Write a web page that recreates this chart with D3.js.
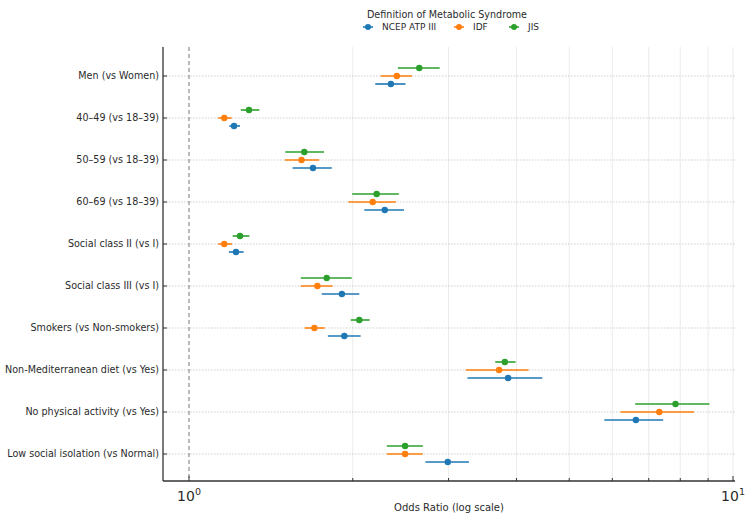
<!DOCTYPE html>
<html><head><meta charset="utf-8">
<script src="https://cdn.jsdelivr.net/npm/d3@7"></script>
<style>body{margin:0;background:#fff;} text{font-family:"DejaVu Sans",sans-serif;}</style>
</head><body><svg id="c" width="750" height="521"></svg>
<script>
const categories = ["Men (vs Women)","40–49 (vs 18–39)","50–59 (vs 18–39)","60–69 (vs 18–39)","Social class II (vs I)","Social class III (vs I)","Smokers (vs Non-smokers)","Non-Mediterranean diet (vs Yes)","No physical activity (vs Yes)","Low social isolation (vs Normal)"];
const seriesNames = ["NCEP ATP III","IDF","JIS"];
const ncepOR = [2.35,1.21,1.69,2.29,1.22,1.91,1.93,3.86,6.63,2.99];
const ncepLo = [2.20,1.186,1.55,2.10,1.184,1.754,1.80,3.25,5.80,2.72];
const ncepHi = [2.50,1.241,1.83,2.485,1.26,2.056,2.068,4.46,7.44,3.27];
const idfOR = [2.41,1.161,1.61,2.176,1.161,1.722,1.70,3.715,7.32,2.496];
const idfLo = [2.25,1.132,1.50,1.963,1.132,1.605,1.632,3.226,6.21,2.31];
const idfHi = [2.57,1.198,1.734,2.40,1.20,1.837,1.776,4.21,8.48,2.69];
const jisOR = [2.65,1.289,1.629,2.213,1.241,1.791,2.056,3.807,7.84,2.496];
const jisLo = [2.42,1.245,1.503,1.995,1.203,1.605,1.983,3.656,6.61,2.31];
const jisHi = [2.89,1.347,1.771,2.43,1.291,1.991,2.148,3.984,9.05,2.69];
const xTicks = [1,10];
const minorTicks = [2,3,4,5,6,7,8,9];
const colors = ["#1f77b4","#ff7f0e","#2ca02c"];

const series = [
  {name:seriesNames[0], or:ncepOR, lo:ncepLo, hi:ncepHi, off:8, color:colors[0]},
  {name:seriesNames[1], or:idfOR, lo:idfLo, hi:idfHi, off:0, color:colors[1]},
  {name:seriesNames[2], or:jisOR, lo:jisLo, hi:jisHi, off:-8, color:colors[2]}
];

const svg = d3.select("#c");
const x = d3.scaleLog().domain([1,10]).range([189,733]);
const y = d3.scalePoint().domain(categories).range([76,454]);
const pL = 163, pR = 735, pT = 47, pB = 481;

// vertical minor grid
svg.append("g").selectAll("line").data(minorTicks.concat([10])).join("line")
  .attr("x1",d=>x(d)).attr("x2",d=>x(d)).attr("y1",pT).attr("y2",pB)
  .attr("stroke","#e6e6e6").attr("stroke-width",0.8);
// horizontal dotted grid
svg.append("g").selectAll("line").data(categories).join("line")
  .attr("x1",pL).attr("x2",pR).attr("y1",d=>y(d)).attr("y2",d=>y(d))
  .attr("stroke","#cfcfcf").attr("stroke-width",1).attr("stroke-dasharray","1.5,1.5");
// reference line at 1
svg.append("line").attr("x1",x(1)).attr("x2",x(1)).attr("y1",pT).attr("y2",pB)
  .attr("stroke","#777").attr("stroke-width",1).attr("stroke-dasharray","4,3");

// spines
svg.append("line").attr("x1",pL).attr("x2",pL).attr("y1",pT).attr("y2",pB).attr("stroke","#333").attr("stroke-width",1.3);
svg.append("line").attr("x1",pL).attr("x2",pR).attr("y1",pB).attr("y2",pB).attr("stroke","#333").attr("stroke-width",1.3);

// y ticks and labels
const yg = svg.append("g");
yg.selectAll("line").data(categories).join("line")
  .attr("x1",pL).attr("x2",pL+4).attr("y1",d=>y(d)).attr("y2",d=>y(d)).attr("stroke","#333");
yg.selectAll("text").data(categories).join("text")
  .attr("x",pL-4).attr("y",d=>y(d)).attr("dy","0.35em").attr("text-anchor","end")
  .attr("font-size","9.6px").attr("fill","#2b2b2b").text(d=>d);

// x ticks
const xg = svg.append("g");
xg.selectAll("line.maj").data(xTicks).join("line").attr("class","maj")
  .attr("x1",d=>x(d)).attr("x2",d=>x(d)).attr("y1",pB).attr("y2",pB-5).attr("stroke","#333");
xg.selectAll("line.min").data(minorTicks).join("line").attr("class","min")
  .attr("x1",d=>x(d)).attr("x2",d=>x(d)).attr("y1",pB).attr("y2",pB-3).attr("stroke","#333");
const lbl = xg.selectAll("text").data(xTicks).join("text")
  .attr("x",d=>x(d)).attr("y",pB+20).attr("text-anchor","middle").attr("font-size","14px").attr("fill","#2b2b2b");
lbl.append("tspan").text("10");
lbl.append("tspan").attr("dy","-6").attr("font-size","9.5px").text(d=>Math.round(Math.log10(d)));

svg.append("text").attr("x",(pL+pR)/2).attr("y",511).attr("text-anchor","middle")
  .attr("font-size","10px").attr("fill","#2b2b2b").text("Odds Ratio (log scale)");

// data
series.forEach(s=>{
  const g = svg.append("g");
  g.selectAll("line").data(categories).join("line")
    .attr("x1",(d,i)=>x(s.lo[i])).attr("x2",(d,i)=>x(s.hi[i]))
    .attr("y1",d=>y(d)+s.off).attr("y2",d=>y(d)+s.off)
    .attr("stroke",s.color).attr("stroke-width",1.6);
  g.selectAll("circle").data(categories).join("circle")
    .attr("cx",(d,i)=>x(s.or[i])).attr("cy",d=>y(d)+s.off).attr("r",3.2).attr("fill",s.color);
});

// legend
svg.append("text").attr("x",447).attr("y",18).attr("text-anchor","middle").attr("font-size","9.6px").attr("fill","#2b2b2b").text("Definition of Metabolic Syndrome");
const legX = [368,459,514];
series.forEach((s,i)=>{
  const lg = svg.append("g").attr("transform",`translate(${legX[i]},27)`);
  lg.append("line").attr("x1",-5).attr("x2",5).attr("stroke",s.color).attr("stroke-width",1.6);
  lg.append("circle").attr("r",3).attr("fill",s.color);
  lg.append("text").attr("x",14).attr("dy","0.35em").attr("font-size","9px").attr("fill","#2b2b2b").text(s.name);
});
</script></body></html>
